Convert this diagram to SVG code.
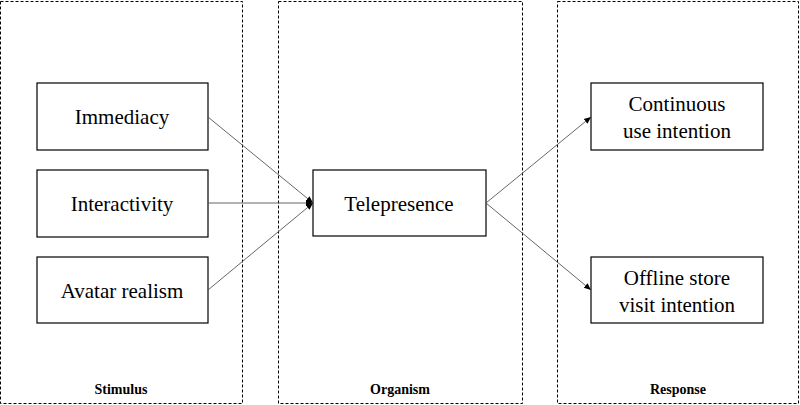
<svg xmlns="http://www.w3.org/2000/svg" width="800" height="405" viewBox="0 0 800 405">
<style>
.grp{fill:none;stroke:#000;stroke-width:1;stroke-dasharray:3,2}
.box{fill:#fff;stroke:#000;stroke-width:1.2}
.t{font-family:"Liberation Serif",serif;font-size:21px;text-anchor:middle;fill:#000}
.g{font-family:"Liberation Serif",serif;font-size:14px;font-weight:bold;text-anchor:middle;fill:#000}
.c{stroke:#555;stroke-width:0.9;fill:none;marker-end:url(#a)}
</style>
<defs><marker id="a" markerWidth="8" markerHeight="8" refX="7" refY="4" orient="auto" markerUnits="userSpaceOnUse"><path d="M0,1 L7,4 L0,7 Z" fill="#000"/></marker></defs>
<g id="stimulus"><rect class="grp" x="0.5" y="1.5" width="242" height="402"/><text class="g" x="121" y="394">Stimulus</text></g>
<g id="organism"><rect class="grp" x="278.5" y="1.5" width="244" height="402"/><text class="g" x="400" y="394">Organism</text></g>
<g id="response"><rect class="grp" x="557.5" y="1.5" width="241" height="402"/><text class="g" x="678" y="394">Response</text></g>
<g id="immediacy"><rect class="box" x="37" y="83" width="171" height="67"/><text class="t" x="122" y="124">Immediacy</text></g>
<g id="interactivity"><rect class="box" x="37" y="170" width="171" height="67"/><text class="t" x="122" y="211">Interactivity</text></g>
<g id="avatar"><rect class="box" x="37" y="257" width="171" height="66"/><text class="t" x="122" y="298">Avatar realism</text></g>
<g id="telepresence"><rect class="box" x="313" y="170" width="173" height="66"/><text class="t" x="399" y="211">Telepresence</text></g>
<g id="continuous"><rect class="box" x="591" y="83" width="172" height="67"/><text class="t" x="677" y="111">Continuous</text><text class="t" x="677" y="138">use intention</text></g>
<g id="offline"><rect class="box" x="591" y="257" width="172" height="66"/><text class="t" x="677" y="285">Offline store</text><text class="t" x="677" y="312">visit intention</text></g>
<g id="connectors">
<line class="c" x1="208" y1="117" x2="313" y2="203"/>
<line class="c" x1="208" y1="203" x2="313" y2="203"/>
<line class="c" x1="208" y1="290" x2="313" y2="203"/>
<line class="c" x1="486" y1="203" x2="591" y2="117"/>
<line class="c" x1="486" y1="203" x2="591" y2="290"/>
</g>
</svg>
